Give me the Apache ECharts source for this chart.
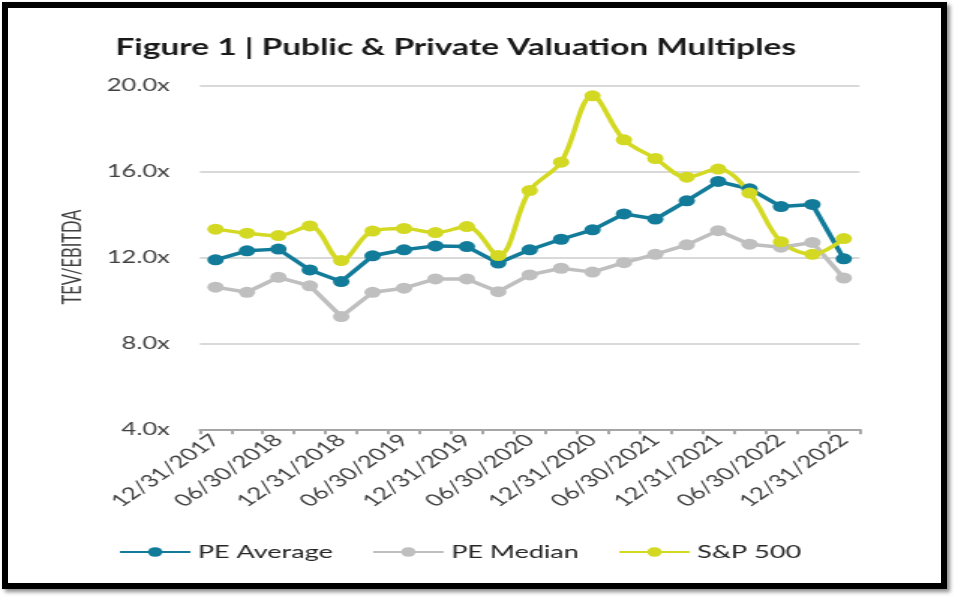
<!DOCTYPE html>
<html>
<head>
<meta charset="utf-8">
<script src="https://cdn.jsdelivr.net/npm/echarts@6/dist/echarts.min.js"></script>
<style>
  html, body { margin: 0; padding: 0; background: #fff; width: 958px; height: 602px; overflow: hidden; }
  #wrap { position: absolute; left: 0; top: 0; width: 639px; height: 602px; transform: scaleX(1.49922); transform-origin: 0 0; }
  #c { width: 639px; height: 602px; }
  #frame { position: absolute; left: 2px; top: 2px; width: 945px; height: 587px; box-sizing: border-box;
           border: 6px solid #000; box-shadow: 3px 3px 4px rgba(0,0,0,0.45); pointer-events: none; }
</style>
</head>
<body>
<div id="wrap"><div id="c"></div></div>
<div id="frame"></div>
<script>
const categories = [
  '12/31/2017','03/31/2018','06/30/2018','09/30/2018','12/31/2018',
  '03/31/2019','06/30/2019','09/30/2019','12/31/2019',
  '03/31/2020','06/30/2020','09/30/2020','12/31/2020',
  '03/31/2021','06/30/2021','09/30/2021','12/31/2021',
  '03/31/2022','06/30/2022','09/30/2022','12/31/2022'
];
const peAverage = [11.89, 12.31, 12.39, 11.42, 10.88, 12.08, 12.36, 12.54, 12.51, 11.74, 12.36, 12.85, 13.29, 14.03, 13.79, 14.64, 15.54, 15.20, 14.37, 14.47, 11.94];
const peMedian  = [10.62, 10.38, 11.08, 10.68, 9.25, 10.38, 10.57, 11.00, 11.00, 10.41, 11.19, 11.50, 11.32, 11.76, 12.15, 12.59, 13.25, 12.62, 12.48, 12.70, 11.04];
const sp500     = [13.32, 13.13, 13.02, 13.47, 11.86, 13.23, 13.35, 13.16, 13.44, 12.09, 15.12, 16.44, 19.53, 17.48, 16.61, 15.74, 16.12, 15.00, 12.73, 12.15, 12.88];
const yTicks = { min: 4, max: 20, interval: 4 };
const titleText = 'Figure 1 | Public & Private Valuation Multiples';
const yName = 'TEV/EBITDA';

const FONT = 'Lato, "Open Sans", sans-serif';
const chart = echarts.init(document.getElementById('c'));
function lineSeries(name, data, color, smooth) {
  return {
    name, type: 'line', data, smooth,
    symbol: 'circle', symbolSize: 11, showSymbol: true,
    lineStyle: { color, width: 3.5 },
    itemStyle: { color },
    emphasis: { disabled: true },
    animation: false
  };
}
chart.setOption({
  animation: false,
  backgroundColor: 'transparent',
  title: {
    text: titleText, left: 77, top: 37, padding: 0,
    textStyle: { fontFamily: FONT, fontSize: 22.3, fontWeight: 'bold', color: '#1a1a1a' }
  },
  graphic: [{
    type: 'text', x: 49, y: 257, rotation: Math.PI / 2,
    style: { text: yName, fontFamily: FONT, fontSize: 16.5, fill: '#404040', textAlign: 'center', textVerticalAlign: 'middle' }
  }],
  legend: {
    left: 79, top: 543, padding: 0, itemWidth: 47, itemHeight: 12, itemGap: 26,
    textStyle: { fontFamily: FONT, fontSize: 18, color: '#262626' },
    data: ['PE Average', 'PE Median', 'S&P 500']
  },
  grid: { left: 133.3, right: 65.7, top: 85.7, bottom: 172.7 },
  xAxis: {
    type: 'category', data: categories, boundaryGap: true,
    axisLine: { lineStyle: { color: '#a6a6a6', width: 2 } },
    axisTick: { show: true, interval: 0, length: 5, lineStyle: { color: '#a6a6a6', width: 2 } },
    axisLabel: { interval: 1, rotate: 45, margin: 8, fontFamily: FONT, fontSize: 17, color: '#404040' },
    splitLine: { show: false }
  },
  yAxis: {
    type: 'value', min: yTicks.min, max: yTicks.max, interval: yTicks.interval,
    axisLine: { show: false }, axisTick: { show: false },
    axisLabel: { margin: 20, fontFamily: FONT, fontSize: 17, color: '#404040', formatter: v => v.toFixed(1) + 'x' },
    splitLine: { lineStyle: { color: '#d9d9d9', width: 2 } }
  },
  series: [
    lineSeries('PE Average', peAverage, '#117b99', false),
    lineSeries('PE Median', peMedian, '#bfbfbf', false),
    lineSeries('S&P 500', sp500, '#d3d923', 0.35)
  ]
});
</script>
</body>
</html>
